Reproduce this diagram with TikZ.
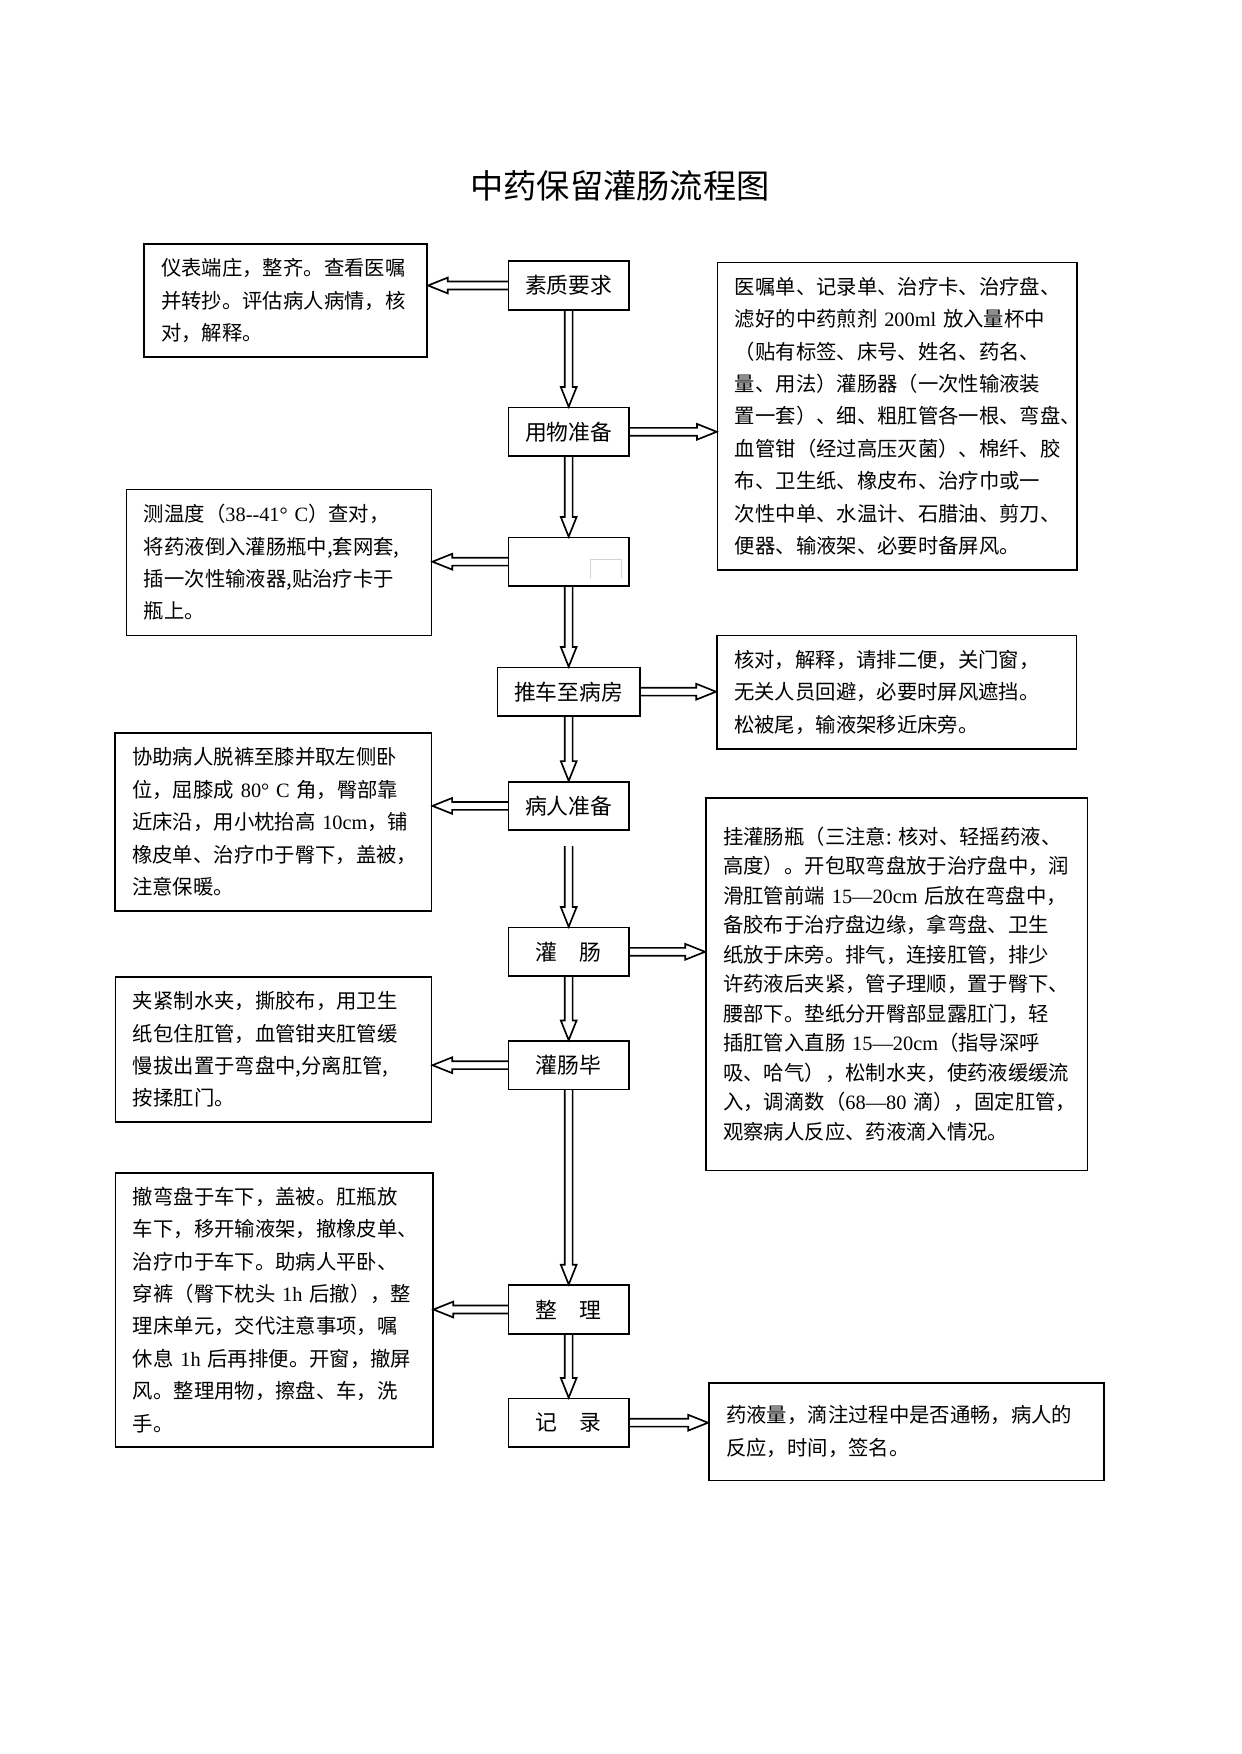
\documentclass[tikz,border=0pt]{standalone}
\usepackage{fontspec}
\setmainfont{Noto Sans CJK SC}
\newfontfamily\lat{Liberation Serif}
\usepackage{tikz}
\usetikzlibrary{calc}
\newlength\pix
\setlength\pix{0.16922mm}
\tikzset{
  stepbox/.style={draw, line width=0.8pt, minimum width=57.9pt, minimum height=23.3pt, inner sep=0pt, font=\fontsize{10.5pt}{12pt}\selectfont},
  note/.style={draw, line width=0.8pt, anchor=north west, align=left, inner xsep=8.4pt, inner ysep=0pt, font=\fontsize{9.8pt}{15.6pt}\selectfont},
  hollow/.style={line width=0.8pt, to path={
    let \p1=(\tikztostart), \p2=(\tikztotarget),
        \n1={atan2(\y2-\y1,\x2-\x1)}, \n2={veclen(\x2-\x1,\y2-\y1)-9.5} in
    ($(\p1)+(\n1+90:1.9pt)$) -- ($(\p1)+(\n1:\n2*1pt)+(\n1+90:1.9pt)$)
    -- ($(\p1)+(\n1:\n2*1pt)+(\n1+90:3.8pt)$) -- (\p2)
    -- ($(\p1)+(\n1:\n2*1pt)+(\n1-90:3.8pt)$) -- ($(\p1)+(\n1:\n2*1pt)+(\n1-90:1.9pt)$)
    -- ($(\p1)+(\n1-90:1.9pt)$)}}
}
\begin{document}
\begin{tikzpicture}[x=\pix, y=-\pix]
\useasboundingbox (0,0) rectangle (1241,1754);
\node[font=\fontsize{16pt}{16pt}\selectfont] (title) at (620,186) {中药保留灌肠流程图};

\node[stepbox] (suzhi) at (568.7,285.5) {素质要求};
\node[stepbox] (yongwu) at (568.7,431.8) {用物准备};
\node[stepbox] (blank) at (568.7,561.7) {};
\node[stepbox, minimum width=68.6pt] (tuiche) at (568.7,691.7) {推车至病房};
\node[stepbox] (bingren) at (568.7,805.9) {病人准备};
\node[stepbox] (guanchang) at (568.7,951.8) {灌　肠};
\node[stepbox] (guanbi) at (568.7,1065.2) {灌肠毕};
\node[stepbox] (zhengli) at (568.7,1309.5) {整　理};
\node[stepbox] (jilu) at (568.7,1422.7) {记　录};
\draw[gray!35, line width=0.4pt] (590,578.3) -- (590,559.3) -- (621.7,559.3) -- (621.7,578.3);

\node[note, text width=119.7pt, minimum height=54.5pt] (suzhiL) at (142.9,243.3) {仪表端庄，整齐。查看医嘱\\并转抄。评估病人病情，核\\对，解释。};
\node[note, text width=130.1pt, minimum height=70.3pt] (blankL) at (125.7,488.5) {\mbox{测温度（{\lat 38-{}-41°~C}）查对，}\\将药液倒入灌肠瓶中,套网套,\\插一次性输液器,贴治疗卡于\\瓶上。};
\node[note, text width=135.7pt, minimum height=85.9pt] (bingrenL) at (114,732) {协助病人脱裤至膝并取左侧卧\\\mbox{位，屈膝成~{\lat 80°~C}~角，臀部靠}\\\mbox{近床沿，用小枕抬高~{\lat 10cm}，铺}\\橡皮单、治疗巾于臀下，盖被，\\注意保暖。};
\node[note, text width=135.4pt, minimum height=70pt] (guanbiL) at (114.7,976) {夹紧制水夹，撕胶布，用卫生\\纸包住肛管，血管钳夹肛管缓\\慢拔出置于弯盘中,分离肛管,\\按揉肛门。};
\node[note, text width=135.9pt, minimum height=131.9pt] (zhengliL) at (114.7,1172) {撤弯盘于车下，盖被。肛瓶放\\车下，移开输液架，撤橡皮单、\\治疗巾于车下。助病人平卧、\\\mbox{穿裤（臀下枕头~{\lat 1h}~后撤），整}\\理床单元，交代注意事项，嘱\\\mbox{休息~{\lat 1h}~后再排便。开窗，撤屏}\\风。整理用物，擦盘、车，洗\\手。};

\node[note, text width=156.4pt, minimum height=147.9pt] (yongwuR) at (716.7,261.7) {医嘱单、记录单、治疗卡、治疗盘、\\\mbox{滤好的中药煎剂~{\lat 200ml}~放入量杯中}\\（贴有标签、床号、姓名、药名、\\量、用法）灌肠器（一次性输液装\\置一套）、细、粗肛管各一根、弯盘、\\血管钳（经过高压灭菌）、棉纤、胶\\布、卫生纸、橡皮布、治疗巾或一\\次性中单、水温计、石腊油、剪刀、\\便器、输液架、必要时备屏风。};
\node[note, text width=156.4pt, minimum height=54.7pt] (tuicheR) at (716,634.7) {核对，解释，请排二便，关门窗，\\无关人员回避，必要时屏风遮挡。\\松被尾，输液架移近床旁。};
\node[note, text width=166.9pt, minimum height=179.4pt, font=\fontsize{9.8pt}{14.2pt}\selectfont] (guanchangR) at (705,797) {\mbox{挂灌肠瓶（三注意:~核对、轻摇药液、}\\高度）。开包取弯盘放于治疗盘中，润\\\mbox{滑肛管前端~{\lat 15—20cm}~后放在弯盘中，}\\备胶布于治疗盘边缘，拿弯盘、卫生\\纸放于床旁。排气，连接肛管，排少\\许药液后夹紧，管子理顺，置于臀下、\\腰部下。垫纸分开臀部显露肛门，轻\\\mbox{插肛管入直肠~{\lat 15—20cm}（指导深呼}\\吸、哈气），松制水夹，使药液缓缓流\\\mbox{入，调滴数（{\lat 68—80}~滴），固定肛管，}\\观察病人反应、药液滴入情况。};
\node[note, text width=173.6pt, minimum height=47pt] (jiluR) at (708,1382) {药液量，滴注过程中是否通畅，病人的\\反应，时间，签名。};

\coordinate (gcstart) at (568.7,846);
\draw[hollow] (suzhi.south) to (yongwu.north);
\draw[hollow] (yongwu.south) to (blank.north);
\draw[hollow] (blank.south) to (tuiche.north);
\draw[hollow] (tuiche.south) to (bingren.north);
\draw[hollow] (gcstart) to (guanchang.north);
\draw[hollow] (guanchang.south) to (guanbi.north);
\draw[hollow] (guanbi.south) to (zhengli.north);
\draw[hollow] (zhengli.south) to (jilu.north);

\draw[hollow] (suzhi.west) to (suzhi.west -| suzhiL.east);
\draw[hollow] (yongwu.east) to (yongwu.east -| yongwuR.west);
\draw[hollow] (blank.west) to (blank.west -| blankL.east);
\draw[hollow] (tuiche.east) to (tuiche.east -| tuicheR.west);
\draw[hollow] (bingren.west) to (bingren.west -| bingrenL.east);
\draw[hollow] (guanchang.east) to (guanchang.east -| guanchangR.west);
\draw[hollow] (guanbi.west) to (guanbi.west -| guanbiL.east);
\draw[hollow] (zhengli.west) to (zhengli.west -| zhengliL.east);
\draw[hollow] (jilu.east) to (jilu.east -| jiluR.west);
\end{tikzpicture}
\end{document}
